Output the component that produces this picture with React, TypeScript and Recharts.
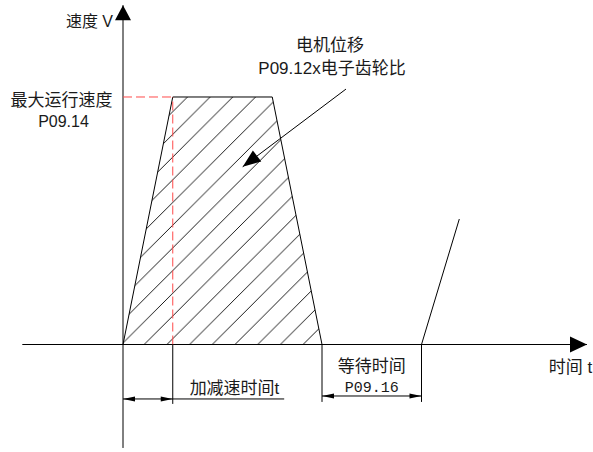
import React from 'react';
import { ComposedChart, Area, Line, XAxis, YAxis, ReferenceLine } from 'recharts';

// trapezoid speed profile: accel 5, constant 10, decel 5 (time units), max speed 100
const profileT = [0, 5, 15, 20];
const profileV = [0, 100, 100, 0];

// start of the next move after the wait time
const nextT = [30, 33.8];
const nextV = [0, 50.7];

const accelTime = 5;
const decelEnd = 20;
const waitEnd = 30;
const maxSpeed = 100;

const profile = profileT.map((t, i) => ({ t, v: profileV[i] }));
const nextMove = nextT.map((t, i) => ({ t, v: nextV[i] }));

const W = 593;
const H = 452;
const X_DOMAIN = [-12.362, 47.236];
const Y_DOMAIN = [-43.43, 139.19];

const SANS = "'Liberation Sans', 'Noto Sans CJK SC', sans-serif";
const SERIF = "'Liberation Mono', 'Noto Sans CJK SC', monospace";

type ArrowOpts = { start?: boolean; end?: boolean; len?: number; half?: number; color?: string; dash?: string };

function arrowShape(o: ArrowOpts) {
  const len = o.len ?? 12;
  const half = o.half ?? 2.5;
  const color = o.color ?? '#000';
  return (p: any) => {
    const { x1, y1, x2, y2 } = p;
    const dx = x2 - x1;
    const dy = y2 - y1;
    const L = Math.hypot(dx, dy) || 1;
    const ux = dx / L;
    const uy = dy / L;
    const nx = -uy;
    const ny = ux;
    const head = (tx: number, ty: number, sx: number, sy: number) => {
      const bx = tx - sx * len;
      const by = ty - sy * len;
      return `${tx},${ty} ${bx + nx * half},${by + ny * half} ${bx - nx * half},${by - ny * half}`;
    };
    return (
      <g>
        <line x1={x1} y1={y1} x2={x2} y2={y2} stroke={color} strokeWidth={1} strokeDasharray={o.dash} />
        {o.end && <polygon points={head(x2, y2, ux, uy)} fill={color} />}
        {o.start && <polygon points={head(x1, y1, -ux, -uy)} fill={color} />}
      </g>
    );
  };
}

const plain = arrowShape({});
const dashedRed = arrowShape({ color: '#ff4a4a', dash: '9 4' });

export default function App() {
  return (
    <div style={{ position: 'absolute', left: 0, top: 0, width: W, height: H, background: '#fff' }}>
      <ComposedChart width={W} height={H} margin={{ top: 0, right: 0, bottom: 0, left: 0 }}>
        <defs>
          <pattern id="hatch" patternUnits="userSpaceOnUse" width="22.7" height="22.7" patternTransform="translate(12,0)">
            <path d="M0,22.7 L22.7,0 M-3,3 L3,-3 M19.7,25.7 L25.7,19.7" stroke="#000" strokeWidth="0.9" />
          </pattern>
        </defs>
        <XAxis type="number" dataKey="t" domain={X_DOMAIN} allowDataOverflow hide />
        <YAxis type="number" dataKey="v" domain={Y_DOMAIN} allowDataOverflow hide />

        <Area data={profile} dataKey="v" type="linear" stroke="#000" strokeWidth={1}
          fill="url(#hatch)" fillOpacity={1} dot={false} activeDot={false} isAnimationActive={false} />
        <Line data={nextMove} dataKey="v" type="linear" stroke="#000" strokeWidth={1}
          dot={false} activeDot={false} isAnimationActive={false} />

        {/* axes */}
        <ReferenceLine segment={[{ x: 0, y: -41.8 }, { x: 0, y: 137.1 }]} shape={arrowShape({ end: true, len: 15, half: 8 })} />
        <ReferenceLine segment={[{ x: -10.12, y: 0 }, { x: 46.63, y: 0 }]} shape={arrowShape({ end: true, len: 17, half: 8 })} />

        {/* max speed guides */}
        <ReferenceLine segment={[{ x: 0, y: maxSpeed }, { x: accelTime, y: maxSpeed }]} shape={dashedRed} />
        <ReferenceLine segment={[{ x: accelTime, y: 0 }, { x: accelTime, y: maxSpeed }]} shape={dashedRed} />

        {/* accel time dimension */}
        <ReferenceLine segment={[{ x: accelTime, y: 0 }, { x: accelTime, y: -24 }]} shape={plain} />
        <ReferenceLine segment={[{ x: 0, y: -22 }, { x: accelTime, y: -22 }]} shape={arrowShape({ start: true, end: true })} />
        <ReferenceLine segment={[{ x: accelTime, y: -22 }, { x: 16.2, y: -22 }]} shape={plain} />

        {/* wait time dimension */}
        <ReferenceLine segment={[{ x: decelEnd, y: 0 }, { x: decelEnd, y: -23.2 }]} shape={plain} />
        <ReferenceLine segment={[{ x: waitEnd, y: 0 }, { x: waitEnd, y: -23.2 }]} shape={plain} />
        <ReferenceLine segment={[{ x: decelEnd, y: -20.8 }, { x: waitEnd, y: -20.8 }]} shape={arrowShape({ start: true, end: true })} />

        {/* displacement callout */}
        <ReferenceLine segment={[{ x: 22.41, y: 103.2 }, { x: 12.03, y: 71.8 }]} shape={arrowShape({ end: true, len: 18, half: 7 })} />

        <g fill="#1a1a1a" fontFamily={SANS}>
          <text x={113} y={21.5} fontSize={16} textAnchor="end" dominantBaseline="central">速度 V</text>
          <text x={61.5} y={100} fontSize={17} textAnchor="middle" dominantBaseline="central">最大运行速度</text>
          <text x={63.5} y={121.5} fontSize={16} textAnchor="middle" dominantBaseline="central">P09.14</text>
          <text x={330} y={45} fontSize={17} textAnchor="middle" dominantBaseline="central">电机位移</text>
          <text x={332} y={68} fontSize={17} textAnchor="middle" dominantBaseline="central">P09.12x电子齿轮比</text>
          <text x={234.5} y={388} fontSize={17} textAnchor="middle" dominantBaseline="central">加减速时间t</text>
          <text x={371.7} y={366.7} fontSize={17} textAnchor="middle" dominantBaseline="central">等待时间</text>
          <text x={371.7} y={388} fontSize={15} fontFamily={SERIF} textAnchor="middle" dominantBaseline="central">P09.16</text>
          <text x={570.5} y={367.7} fontSize={17} textAnchor="middle" dominantBaseline="central">时间 t</text>
        </g>
      </ComposedChart>
    </div>
  );
}
